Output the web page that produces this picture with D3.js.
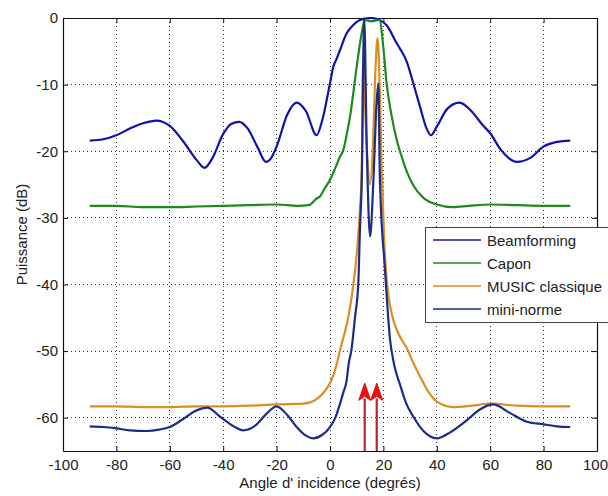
<!DOCTYPE html>
<html><head><meta charset="utf-8">
<script src="https://cdn.jsdelivr.net/npm/d3@7"></script>
<style>body{margin:0;background:#fff;}svg{display:block;font-family:"Liberation Sans",Arial,sans-serif;}</style>
</head><body><svg id="c" width="608" height="496"></svg>
<script>
const xTicks = [-100,-80,-60,-40,-20,0,20,40,60,80,100];
const yTicks = [0,-10,-20,-30,-40,-50,-60];
const seriesNames = ["Beamforming","Capon","MUSIC classique","mini-norme"];
const seriesColors = ["#1212a8","#1e8a1e","#dc8e22","#1c2c88"];

const beamAngles = [-90,-85,-80,-75,-70,-65,-60,-55,-50,-47,-44,-40,-37,-34,-31,-27,-24,-22,-20,-16,-12.5,-9,-5,-3,0,1.25,2.5,3.75,6.25,8.75,11.2,15.5,19,21.2,25,26.2,28.7,31.2,33.7,36.2,37.8,40,44,48.5,53,57,60,64,70,75,80,85,90];
const beamValues = [-18.4,-18.2,-17.6,-16.6,-15.8,-15.4,-16.2,-18.5,-21.3,-22.5,-21.0,-17.4,-15.9,-15.6,-16.5,-19.5,-21.6,-21.0,-19.3,-14.5,-12.7,-14.0,-17.6,-15.5,-9.8,-7.3,-6.1,-4.8,-2.3,-1.05,-0.3,0,-0.4,-1.1,-3.8,-4.6,-6.5,-9.8,-13.3,-16.6,-17.6,-16.3,-13.6,-12.7,-14.0,-16.0,-17.3,-19.8,-21.6,-21.0,-19.3,-18.6,-18.4];

const caponAngles = [-90,-80,-70,-60,-50,-40,-30,-20,-12,-8,-5,-3.75,-2,0,2,3.75,5,6.25,7.5,10,12,13,15.5,18.5,20,21.2,23,25,27,29,31,35,40,46,52,60,70,80,90];
const caponValues = [-28.2,-28.2,-28.4,-28.4,-28.3,-28.2,-28.1,-28.0,-28.2,-28.1,-27.1,-26.8,-25.6,-24.3,-22.5,-20.8,-19.8,-17.5,-14.8,-7.3,-2.0,-0.3,-0.5,-0.3,-4.5,-9.8,-14.5,-18.3,-21.0,-23.3,-25.0,-27.0,-28.0,-28.4,-28.2,-28.0,-28.1,-28.2,-28.2];

const musicAngles = [-90,-80,-70,-60,-50,-40,-30,-20,-10,-7.5,-5,-2.5,0,1.25,2.5,3.75,5,5.9,7,8.8,10,11.2,11.9,12.4,13.2,14,15,16,16.9,17.8,18.6,19.4,20.3,21.2,22,23,25,27,28.7,31,33.7,37,40,46,53,60,70,80,90];
const musicValues = [-58.3,-58.3,-58.4,-58.4,-58.3,-58.3,-58.2,-58.0,-57.9,-57.7,-57.2,-56.3,-54.8,-53.6,-52.0,-49.9,-48.0,-46.6,-44.6,-39.8,-35.5,-28.8,-22.8,-6.0,-14.0,-21.0,-25.0,-20.0,-9.0,-3.0,-10.0,-22.8,-33.5,-39.0,-42.0,-44.2,-46.8,-48.4,-49.5,-51.6,-53.8,-56.2,-57.6,-58.4,-58.2,-57.9,-58.2,-58.3,-58.3];

const minnAngles = [-90,-85,-80,-75,-68.6,-64,-60,-55,-50,-46,-41,-36,-32.5,-28,-24,-20,-16,-12.5,-9,-6.3,-3,0,2,3.75,5,6.2,7,8,9.4,10.6,11.2,11.9,12.8,13.8,15,16.3,17.4,18.1,18.7,20.6,22.5,24,26.2,28.5,31.3,35,40,45,51.2,56,61.2,67,73.7,80,85,90];
const minnValues = [-61.3,-61.4,-61.6,-61.9,-62.0,-61.8,-61.4,-60.2,-58.9,-58.5,-59.9,-61.3,-61.9,-61.2,-59.5,-58.3,-59.6,-61.4,-62.7,-63.1,-62.6,-61.4,-60.0,-57.9,-56.2,-54.5,-51.9,-49.9,-44.8,-39.8,-32.0,-24.3,0,-20.0,-32.8,-24.0,-13.0,-9.8,-24.3,-37.8,-48.3,-52.0,-55.0,-57.8,-59.9,-62.0,-63.1,-62.2,-60.4,-58.8,-58.0,-59.2,-60.6,-61.0,-61.3,-61.4];

const arrowAngles = [13, 17.5];
const arrowTipValue = -54.8;
const arrowBaseValue = -57.4;

const svg = d3.select("#c");
const L=63,R=597,T=18,B=451;
const x = d3.scaleLinear().domain([-100,100]).range([L,R]);
const y = d3.scaleLinear().domain([-65,0]).range([B,T]);
const fmt = d => String(d);

// grid
const g = svg.append("g");
xTicks.slice(1,-1).forEach(t=>{
  g.append("line").attr("x1",x(t)).attr("x2",x(t)).attr("y1",T).attr("y2",B)
   .attr("stroke","#333").attr("stroke-width",1).attr("stroke-dasharray","1,3").attr("shape-rendering","crispEdges");
});
yTicks.slice(1).forEach(t=>{
  g.append("line").attr("x1",L).attr("x2",R).attr("y1",y(t)).attr("y2",y(t))
   .attr("stroke","#333").attr("stroke-width",1).attr("stroke-dasharray","1,3").attr("shape-rendering","crispEdges");
});

// axes with inward ticks
const ax = svg.append("g");
const axB = ax.append("g").attr("transform",`translate(0,${B})`).call(d3.axisBottom(x).tickValues(xTicks).tickFormat(fmt).tickSizeInner(-5).tickSizeOuter(0).tickPadding(8));
const axL = ax.append("g").attr("transform",`translate(${L},0)`).call(d3.axisLeft(y).tickValues(yTicks).tickFormat(fmt).tickSizeInner(-5).tickSizeOuter(0).tickPadding(5));
const axT = ax.append("g").attr("transform",`translate(0,${T})`).call(d3.axisTop(x).tickValues(xTicks).tickSizeInner(-5).tickSizeOuter(0).tickFormat(""));
const axR = ax.append("g").attr("transform",`translate(${R},0)`).call(d3.axisRight(y).tickValues(yTicks).tickSizeInner(-5).tickSizeOuter(0).tickFormat(""));
ax.selectAll("path.domain").attr("stroke","#111").attr("stroke-width",1.2);
ax.selectAll(".tick line").attr("stroke","#111");
ax.selectAll(".tick text").attr("font-size",15).attr("fill","#222").attr("font-family","Liberation Sans, Arial, sans-serif");
axB.selectAll(".tick text").filter(d=>d===100).attr("dx",-2);

// curves
const line = d3.line().x(d=>x(d[0])).y(d=>y(d[1])).curve(d3.curveMonotoneX);
const series = [
  [beamAngles,beamValues],[caponAngles,caponValues],[musicAngles,musicValues],[minnAngles,minnValues]
];
svg.append("clipPath").attr("id","pc").append("rect").attr("x",L).attr("y",T-1).attr("width",R-L).attr("height",B-T+1);
const cg = svg.append("g").attr("clip-path","url(#pc)");
series.forEach((s,i)=>{
  const pts = s[0].map((a,j)=>[a,s[1][j]]);
  cg.append("path").datum(pts).attr("d",line).attr("fill","none")
    .attr("stroke",seriesColors[i]).attr("stroke-width",2.2).attr("stroke-linejoin","round");
});

// arrows
arrowAngles.forEach(a=>{
  const xa = x(a);
  svg.append("line").attr("x1",xa).attr("x2",xa).attr("y1",B).attr("y2",y(arrowBaseValue)-2)
    .attr("stroke","#b02828").attr("stroke-width",2.2);
  const tip=y(arrowTipValue), base=y(arrowBaseValue);
  svg.append("path").attr("d",`M${xa},${tip} L${xa+6},${base} L${xa},${base-4} L${xa-6},${base} Z`)
    .attr("fill","#e81010").attr("stroke","#e81010").attr("stroke-width",1);
});

// axis labels
svg.append("text").attr("x",(L+R)/2).attr("y",488).attr("text-anchor","middle")
  .attr("font-size",15).attr("fill","#222").text("Angle d' incidence (degrés)");
svg.append("text").attr("transform",`translate(27,${(T+B)/2}) rotate(-90)`).attr("text-anchor","middle")
  .attr("font-size",15).attr("fill","#222").text("Puissance (dB)");

// legend
const lg = svg.append("g");
lg.append("rect").attr("x",425.5).attr("y",227.5).attr("width",200).attr("height",95)
  .attr("fill","#fff").attr("stroke","#444").attr("stroke-width",1);
seriesNames.forEach((n,i)=>{
  const yy = 240 + i*23;
  lg.append("line").attr("x1",433).attr("x2",481).attr("y1",yy).attr("y2",yy)
    .attr("stroke",seriesColors[i]).attr("stroke-width",1.6);
  lg.append("text").attr("x",487).attr("y",yy+5.5).attr("font-size",15).attr("fill","#222").text(n);
});
</script></body></html>
